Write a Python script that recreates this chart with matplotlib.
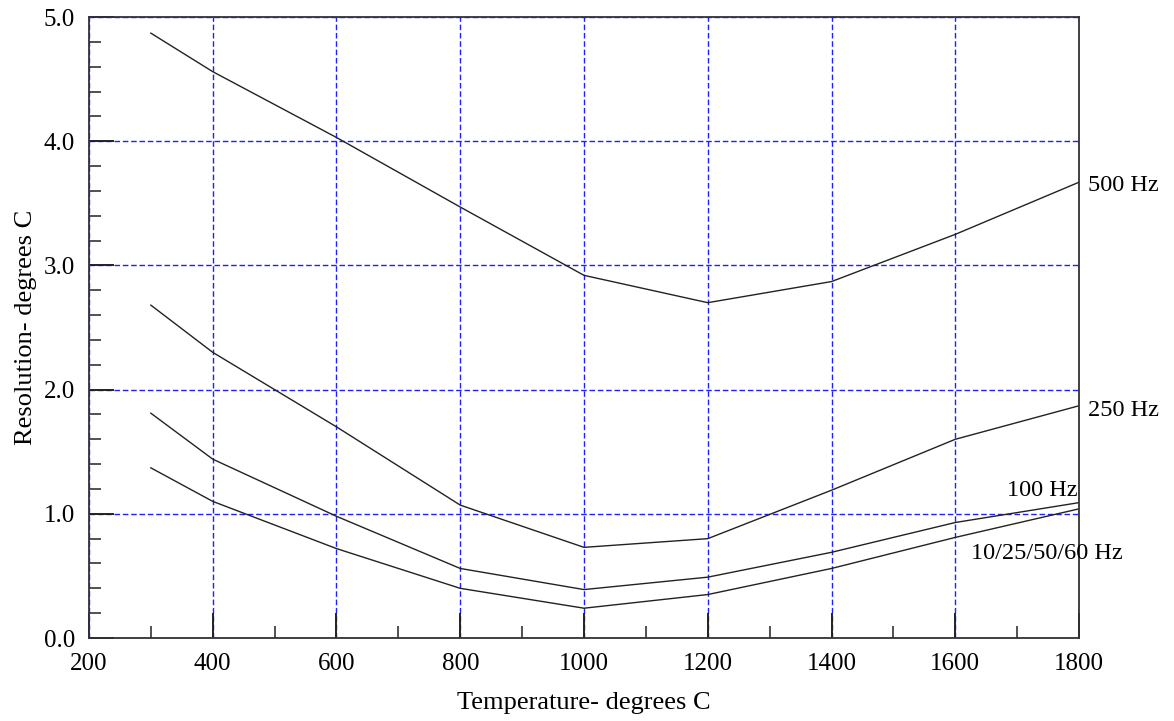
import numpy as np
import matplotlib
matplotlib.use("Agg")
import matplotlib.pyplot as plt
from matplotlib.ticker import MultipleLocator

plt.rcParams['font.family'] = ['Liberation Serif', 'DejaVu Serif']

temps = [300, 400, 600, 800, 1000, 1200, 1400, 1600, 1800]
res_500 = [4.87, 4.56, 4.03, 3.47, 2.92, 2.70, 2.87, 3.25, 3.67]
res_250 = [2.68, 2.30, 1.70, 1.07, 0.73, 0.80, 1.19, 1.60, 1.87]
res_100 = [1.81, 1.44, 0.98, 0.56, 0.39, 0.49, 0.69, 0.93, 1.09]
res_low = [1.37, 1.10, 0.72, 0.40, 0.24, 0.35, 0.56, 0.81, 1.04]

fig = plt.figure(figsize=(11.74, 7.21), dpi=100)
ax = fig.add_axes([0.0758, 0.1151, 0.8433, 0.8613])

for r in (res_500, res_250, res_100, res_low):
    ax.plot(temps, r, color='#222222', lw=1.0)

ax.set_xlim(200, 1800)
ax.set_ylim(0, 5)
ax.xaxis.set_major_locator(MultipleLocator(200))
ax.xaxis.set_minor_locator(MultipleLocator(100))
ax.yaxis.set_major_locator(MultipleLocator(1))
ax.yaxis.set_minor_locator(MultipleLocator(0.2))
ax.yaxis.set_major_formatter(plt.FormatStrFormatter('%.1f'))

ax.grid(True, which='major', color='#2020ff', lw=1.0, ls=(0, (4, 2)))
ax.tick_params(which='major', direction='in', length=18, width=1.4, color='#222222',
               labelsize=18, pad=10)
ax.tick_params(which='minor', direction='in', length=8.5, width=1.2, color='#333333')
ax.tick_params(axis='x', which='major', pad=11)
for s in ax.spines.values():
    s.set_linewidth(1.3)
    s.set_color('#333333')

ax.set_xlabel('Temperature- degrees C', fontsize=19, labelpad=12)
ax.set_ylabel('Resolution- degrees C', fontsize=19, labelpad=5)

ax.text(1814, 3.64, '500 Hz', fontsize=17.5, va='center', ha='left', clip_on=False)
ax.text(1814, 1.83, '250 Hz', fontsize=17.5, va='center', ha='left', clip_on=False)
ax.text(1797, 1.19, '100 Hz', fontsize=17.5, va='center', ha='right', clip_on=False)
ax.text(1625, 0.68, '10/25/50/60 Hz', fontsize=17.5, va='center', ha='left', clip_on=False)

fig.savefig('out.png', dpi=100)
